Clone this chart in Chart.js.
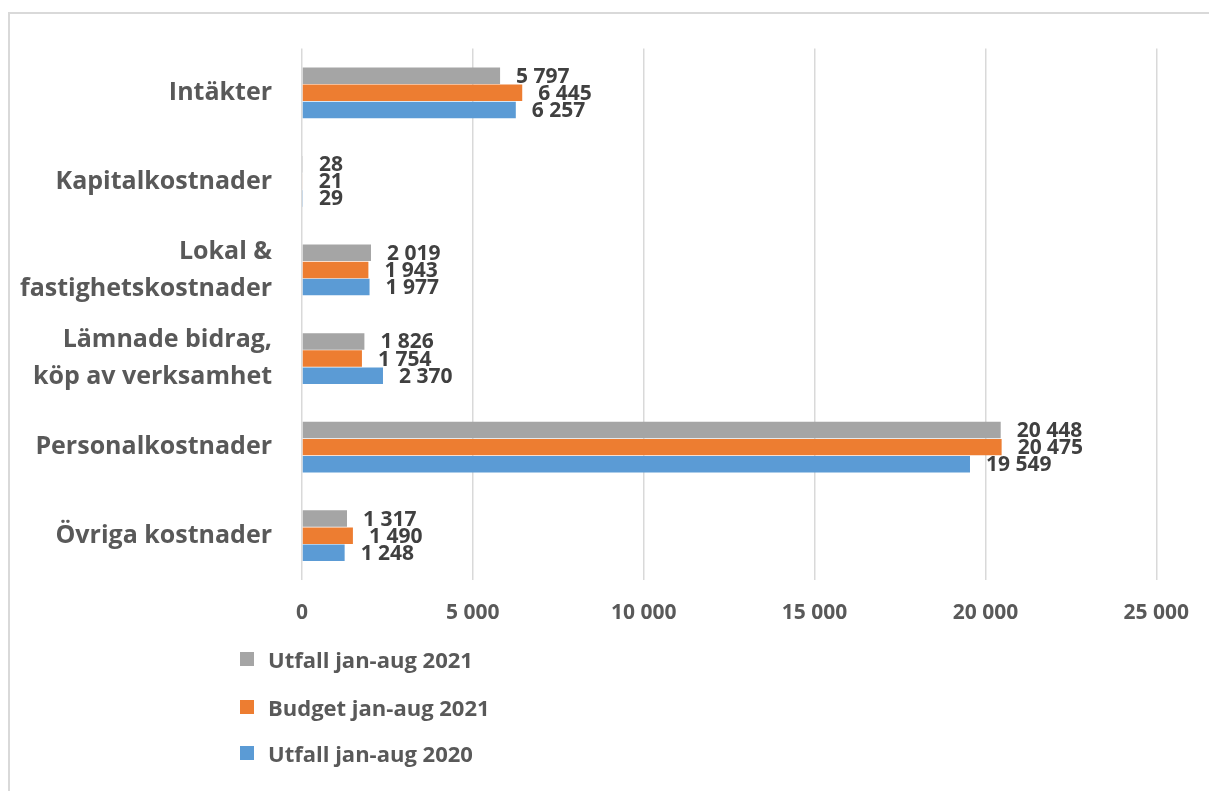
<!DOCTYPE html>
<html lang="sv">
<head>
<meta charset="utf-8">
<title>Kostnader och intäkter jan-aug</title>
<script src="https://cdn.jsdelivr.net/npm/chart.js@4/dist/chart.umd.min.js"></script>
<style>
    html, body { margin: 0; padding: 0; background: #fff; }
    body { width: 1209px; height: 791px; position: relative; overflow: hidden; font-family: 'Open Sans', sans-serif; }
    #frame { position: absolute; left: 8px; top: 12px; width: 1230px; height: 800px; border: 2px solid #d9d9d9; box-sizing: border-box; }
    #chart { position: absolute; left: 0; top: 0; }
    #legend { position: absolute; left: 240px; top: 0; }
    .item { position: absolute; left: 0; white-space: nowrap; display: flex; align-items: center; color: #595959; font-weight: bold; font-size: 22px; }
    .box { width: 14px; height: 14px; margin-right: 14px; }
</style>
</head>
<body>
<div id="frame"></div>
<canvas id="chart" width="1209" height="650"></canvas>
<div id="legend"></div>
<script>
// Kategorier uppifrån och ned
const categories = [
    'Intäkter',
    'Kapitalkostnader',
    ['Lokal &', 'fastighetskostnader'],
    ['Lämnade bidrag,', 'köp av verksamhet'],
    'Personalkostnader',
    'Övriga kostnader',
];

const seriesNames = ['Utfall jan-aug 2021', 'Budget jan-aug 2021', 'Utfall jan-aug 2020'];
const seriesColors = ['#a5a5a5', '#ed7d31', '#5b9bd5'];

const utfall2021 = [5797, 28, 2019, 1826, 20448, 1317];
const budget2021 = [6445, 21, 1943, 1754, 20475, 1490];
const utfall2020 = [6257, 29, 1977, 2370, 19549, 1248];

const xTicks = [0, 5000, 10000, 15000, 20000, 25000];

// "20 448" style with space as thousands separator
function fmt(n) {
    return String(Math.round(n)).replace(/\B(?=(\d{3})+(?!\d))/g, ' ');
}

const valueLabels = {
    id: 'valueLabels',
    afterDatasetsDraw(chart) {
        const ctx = chart.ctx;
        ctx.save();
        ctx.font = 'bold 21px "Open Sans"';
        ctx.fillStyle = '#404040';
        ctx.textAlign = 'left';
        ctx.textBaseline = 'middle';
        chart.data.datasets.forEach((ds, i) => {
            chart.getDatasetMeta(i).data.forEach((bar, j) => {
                ctx.fillText(fmt(ds.data[j]), bar.x + 16, bar.y + 1);
            });
        });
        ctx.restore();
    },
};

const ctx = document.getElementById('chart').getContext('2d');

const chart = new Chart(ctx, {
    type: 'bar',
    data: {
        labels: categories,
        datasets: [utfall2021, budget2021, utfall2020].map((data, i) => ({
            label: seriesNames[i],
            data: data,
            backgroundColor: seriesColors[i],
            borderWidth: 0,
            categoryPercentage: 0.58,
            barPercentage: 0.96,
        })),
    },
    options: {
        indexAxis: 'y',
        responsive: false,
        animation: false,
        layout: { padding: { top: 47, right: 52, left: 0, bottom: 0 } },
        plugins: {
            legend: { display: false },
            tooltip: { enabled: false },
        },
        scales: {
            x: {
                min: 0,
                max: 25000,
                afterBuildTicks: (axis) => { axis.ticks = xTicks.map(v => ({ value: v })); },
                afterFit: (axis) => { axis.height = 70; },
                grid: { color: '#d9d9d9', lineWidth: 1.5, drawTicks: false },
                border: { display: false },
                ticks: {
                    padding: 20,
                    color: '#595959',
                    font: { family: 'Open Sans', size: 21, weight: 'bold' },
                    callback: (v) => fmt(v),
                },
            },
            y: {
                afterFit: (axis) => { axis.width = 302; },
                grid: { display: false, drawTicks: false },
                border: { display: false },
                ticks: {
                    padding: 30,
                    color: '#595959',
                    font: { family: 'Open Sans', size: 25, weight: 'bold', lineHeight: 1.48 },
                },
            },
        },
    },
    plugins: [valueLabels],
});

// legend below the chart, one item per row
const legendTops = [659, 707, 753];
const legend = document.getElementById('legend');
chart.data.datasets.forEach((ds, i) => {
    const item = document.createElement('div');
    item.className = 'item';
    item.style.top = (legendTops[i] - 15) + 'px';
    item.style.height = '30px';
    const box = document.createElement('span');
    box.className = 'box';
    box.style.background = ds.backgroundColor;
    const txt = document.createElement('span');
    txt.textContent = ds.label;
    item.appendChild(box);
    item.appendChild(txt);
    legend.appendChild(item);
});
</script>
</body>
</html>
